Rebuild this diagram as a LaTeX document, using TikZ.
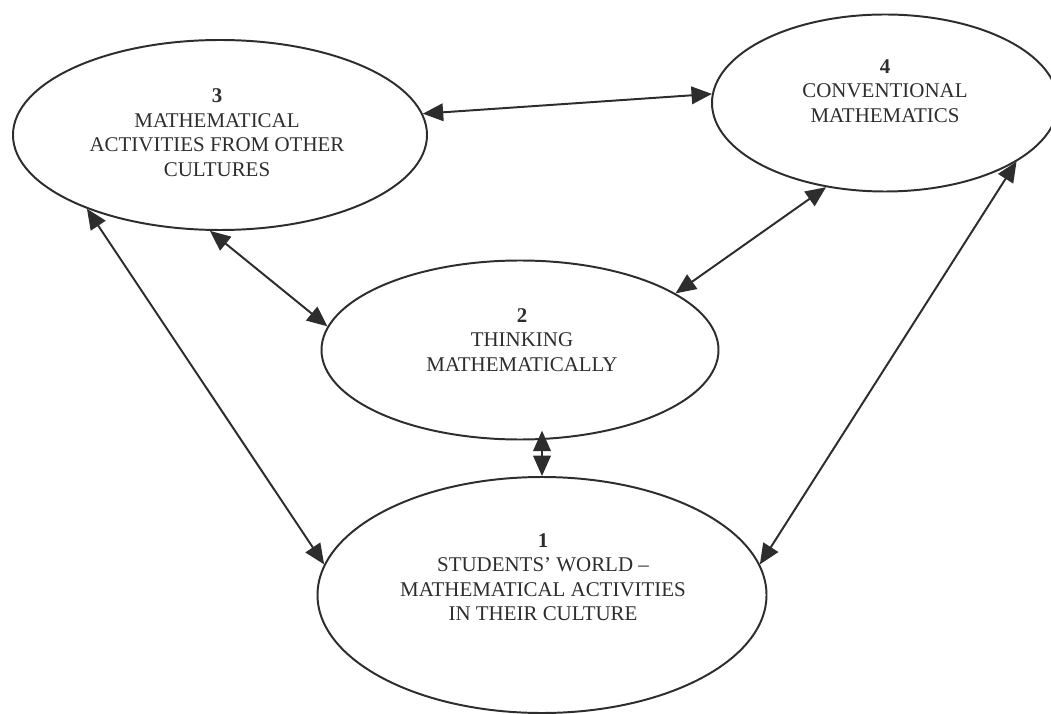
\documentclass[tikz,border=0pt]{standalone}
\usepackage{fontspec}
\setmainfont{Liberation Serif}
\usepackage{tikz}
\usetikzlibrary{arrows.meta,shapes,positioning}
\usepackage{xcolor}
\definecolor{inkgray}{RGB}{45,45,45}
\tikzstyle{arrow} = [line width=1.4pt,<->,>={Triangle[length=14.5pt,width=12.5pt]},color=inkgray]
\tikzstyle{bubble} = [ellipse, draw=inkgray, line width=1.4pt, inner sep=0pt]
\tikzstyle{bubbletext} = [align=center, text=inkgray, font=\fontsize{14.9pt}{17.4pt}\selectfont]

\begin{document}
\begin{tikzpicture}
    \useasboundingbox (0, 0) rectangle (26.275, -17.85);

    % 3: other cultures
    \node[bubble, minimum width=10.35cm, minimum height=4.75cm] (n3) at (5.5, -3.375) {};
    \node[bubbletext] (t3) at (5.425, -3.3125) {\textbf{3}\\MATHEMATICAL\\ACTIVITIES FROM OTHER\\CULTURES};

    % 4: conventional
    \node[bubble, minimum width=8.65cm, minimum height=4.425cm] (n4) at (22.125, -2.575) {};
    \node[bubbletext] (t4) at (22.125, -2.275) {\textbf{4}\\CONVENTIONAL\\MATHEMATICS};

    % 2: thinking
    \node[bubble, minimum width=9.925cm, minimum height=4.475cm] (n2) at (13.0, -8.75) {};
    \node[bubbletext] (t2) at (13.05, -8.5) {\textbf{2}\\THINKING\\MATHEMATICALLY};

    % 1: students' world
    \node[bubble, minimum width=11.225cm, minimum height=5.9cm] (n1) at (13.55, -14.875) {};
    \node[bubbletext] (t1) at (13.575, -14.425) {\textbf{1}\\STUDENTS' WORLD --\\MATHEMATICAL ACTIVITIES\\IN THEIR CULTURE};

    % Arrows
    \draw[arrow] (n3.6) -- (n4.177.4);
    \draw[arrow] (n3.209) -- (n1.172.9);
    \draw[arrow] (n3.264.2) -- (n2.173.7);
    \draw[arrow] (n2.20) -- (n4.235.2);
    \draw[arrow, shorten >=-7pt] (n1.north) -- (n1.north |- n2.south);
    \draw[arrow] (n4.-24.3) -- (n1.8.4);
\end{tikzpicture}
\end{document}
